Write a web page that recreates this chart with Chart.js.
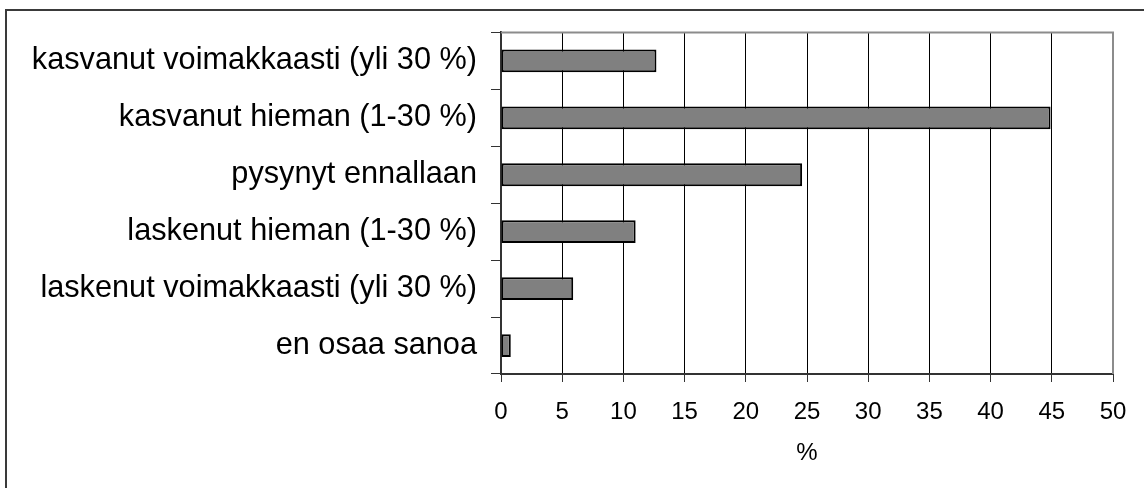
<!DOCTYPE html>
<html>
<head>
<meta charset="utf-8">
<script src="https://cdn.jsdelivr.net/npm/chart.js@4/dist/chart.umd.min.js"></script>
<style>
  html, body { margin: 0; padding: 0; background: #fff; overflow: hidden; }
  #wrap { position: relative; width: 1144px; height: 488px; }
  #frame {
    position: absolute; left: 5px; top: 9px; width: 2000px; height: 2000px;
    border: 2px solid #3a3a3a; box-sizing: border-box;
  }
  canvas { position: absolute; left: 0; top: 0; }
</style>
</head>
<body>
<div id="wrap">
  <div id="frame"></div>
  <canvas id="chart" width="1144" height="488"></canvas>
</div>
<script>
// ===== DATA =====
const categories = [
    'kasvanut voimakkaasti (yli 30 %)',
    'kasvanut hieman (1-30 %)',
    'pysynyt ennallaan',
    'laskenut hieman (1-30 %)',
    'laskenut voimakkaasti (yli 30 %)',
    'en osaa sanoa'
];
const shares = [12.7, 44.9, 24.6, 11.0, 5.9, 0.8];
const xTicks = [0, 5, 10, 15, 20, 25, 30, 35, 40, 45, 50];
const xTitle = '%';

const FONT = "'Liberation Sans', Arial, sans-serif";

// top + right plot border in grey
const plotBorder = {
    id: 'plotBorder',
    beforeDatasetsDraw(chart) {
        const a = chart.chartArea;
        const c = chart.ctx;
        c.save();
        c.strokeStyle = '#8c8c8c';
        c.lineWidth = 2;
        c.beginPath();
        c.moveTo(a.left, a.top);
        c.lineTo(a.right, a.top);
        c.lineTo(a.right, a.bottom);
        c.stroke();
        c.restore();
    }
};

const ctx = document.getElementById('chart');

new Chart(ctx, {
    type: 'bar',
    data: {
        labels: categories,
        datasets: [{
            data: shares,
            backgroundColor: '#808080',
            borderColor: '#000',
            borderWidth: 2,
            borderSkipped: false,
            categoryPercentage: 1,
            barPercentage: 0.4
        }]
    },
    options: {
        indexAxis: 'y',
        responsive: false,
        animation: false,
        devicePixelRatio: 1,
        layout: {
            padding: { top: 30, right: 31, left: 0, bottom: 0 }
        },
        plugins: {
            legend: { display: false },
            tooltip: { enabled: false }
        },
        scales: {
            x: {
                min: 0,
                max: 50,
                afterBuildTicks(axis) {
                    axis.ticks = xTicks.map(v => ({ value: v }));
                },
                afterFit(axis) { axis.height = 114; },
                ticks: {
                    color: '#000',
                    font: { family: FONT, size: 24 },
                    padding: 16,
                    maxRotation: 0
                },
                grid: {
                    color: c => (c.tick && c.tick.value === 50) ? '#8c8c8c' : '#000',
                    lineWidth: 1,
                    tickLength: 8,
                    tickColor: '#333'
                },
                border: { color: '#333', width: 2 },
                title: {
                    display: true,
                    text: xTitle,
                    color: '#000',
                    font: { family: FONT, size: 24 },
                    padding: { top: 0, bottom: 20 }
                }
            },
            y: {
                afterFit(axis) { axis.width = 501; },
                ticks: {
                    color: '#000',
                    font: { family: FONT, size: 30.7 },
                    padding: 14,
                    autoSkip: false
                },
                grid: {
                    drawOnChartArea: false,
                    tickLength: 10,
                    tickColor: '#333',
                    lineWidth: 1
                },
                border: { color: '#333', width: 2 }
            }
        }
    },
    plugins: [plotBorder]
});
</script>
</body>
</html>
